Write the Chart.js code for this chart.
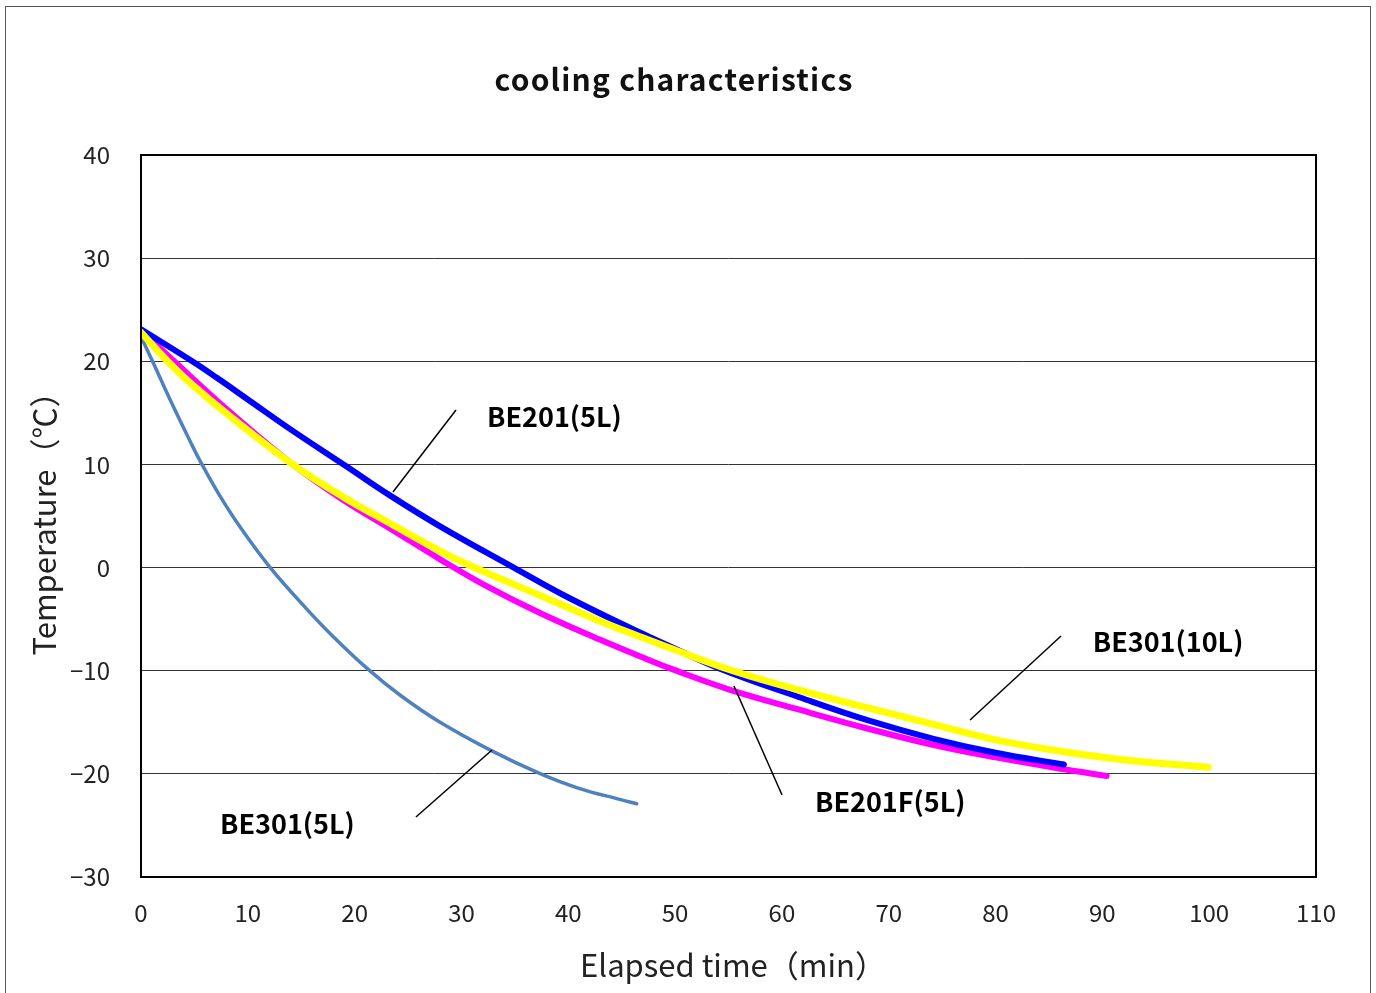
<!DOCTYPE html>
<html>
<head>
<meta charset="utf-8">
<script src="https://cdn.jsdelivr.net/npm/chart.js@4"></script>
<style>
  html, body { margin: 0; padding: 0; background: #fff; }
  #wrap { width: 1376px; height: 993px; position: relative; }
</style>
</head>
<body>
<div id="wrap"><canvas id="c" width="1376" height="993"></canvas></div>
<script>
// ---- data ----
const titleText = 'cooling characteristics';
const xTitle = 'Elapsed time（min）';
const yTitle = 'Temperature（℃）';
const xTickValues = [0, 10, 20, 30, 40, 50, 60, 70, 80, 90, 100, 110];
const yTickValues = [-30, -20, -10, 0, 10, 20, 30, 40];

const seriesNames = ['BE301(10L)', 'BE201(5L)', 'BE201F(5L)', 'BE301(5L)'];

const timeBE301_10L = [0, 2.5, 4.6, 8.3, 14.2, 19, 23.3, 28, 31, 37.35, 43, 46.7, 49.25, 55.4, 61.7, 74.2, 80, 86.7, 93, 99.9];
const tempBE301_10L = [22.8, 20.0, 17.9, 14.7, 10.0, 6.8, 4.3, 1.6, 0.1, -2.7, -5.2, -6.7, -7.7, -10.0, -11.9, -15.2, -16.7, -17.9, -18.75, -19.35];

const timeBE201_5L = [0, 4.8, 7.1, 10, 14, 19.25, 23.3, 28, 34.9, 40, 46.7, 49.25, 54.2, 61.7, 68, 74.2, 80, 86.4];
const tempBE201_5L = [23.1, 20.0, 18.4, 16.3, 13.4, 9.8, 7.0, 4.0, 0.0, -2.9, -6.3, -7.5, -9.8, -12.6, -14.8, -16.6, -17.95, -19.1];

const timeBE201F_5L = [0, 3.1, 8.3, 14.2, 19, 23.3, 28, 32, 37.35, 43, 46.7, 49.6, 55, 61.7, 68, 74.2, 80, 86.7, 90.4];
const tempBE201F_5L = [23.0, 20.0, 15.1, 10.0, 6.5, 3.8, 0.8, -1.6, -4.4, -7.0, -8.6, -9.8, -11.8, -13.8, -15.6, -17.2, -18.4, -19.6, -20.2];

const timeBE301_5L = [0, 1.1, 2.65, 4.6, 5.5, 7.3, 9.3, 12.1, 15.5, 18, 21.3, 24.3, 28, 32.7, 37.2, 41, 44.9, 46.4];
const tempBE301_5L = [22.4, 19.95, 16.45, 12.25, 10.4, 7.1, 3.9, 0.0, -4.0, -6.7, -9.9, -12.4, -15.0, -17.7, -19.9, -21.4, -22.5, -22.9];

// label callouts, in data units: text anchor (left/middle) and leader line ends
const calloutText = ['BE201(5L)', 'BE301(10L)', 'BE201F(5L)', 'BE301(5L)'];
const calloutTextX = [32.4, 89.1, 63.1, 7.4];
const calloutTextY = [14.6, -7.2, -22.7, -24.8];
const calloutLineX1 = [29.49, 86.13, 60.01, 25.74];
const calloutLineY1 = [15.28, -6.64, -22.05, -24.18];
const calloutLineX2 = [23.59, 77.61, 55.51, 32.86];
const calloutLineY2 = [7.33, -14.78, -11.48, -17.69];

// ---- build ----
function zip(ts, vs) { return ts.map((t, i) => ({ x: t, y: vs[i] })); }
const FONT = '"Noto Sans CJK JP", "Noto Sans", sans-serif';

const framePlugin = {
  id: 'frame',
  beforeDraw(chart) {
    const ctx = chart.ctx;
    ctx.save();
    ctx.fillStyle = '#fff';
    ctx.fillRect(0, 0, chart.width, chart.height);
    ctx.strokeStyle = '#555';
    ctx.lineWidth = 1;
    ctx.strokeRect(5.5, 6.5, 1365, 1010);
    // title
    ctx.fillStyle = '#111';
    ctx.font = 'bold 30px ' + FONT;
    try { ctx.letterSpacing = '1.2px'; } catch (e) {}
    ctx.textAlign = 'center';
    ctx.textBaseline = 'middle';
    ctx.fillText(titleText, 674, 80);
    try { ctx.letterSpacing = '0px'; } catch (e) {}
    // x axis title
    ctx.fillStyle = '#222';
    ctx.font = '31px ' + FONT;
    ctx.fillText(xTitle, 733, 965);
    ctx.restore();
  },
  afterDatasetsDraw(chart) {
    const ctx = chart.ctx;
    const xs = chart.scales.x, ys = chart.scales.y;
    const a = chart.chartArea;
    ctx.save();
    ctx.strokeStyle = '#000';
    ctx.lineWidth = 2;
    ctx.strokeRect(a.left, a.top, a.right - a.left, a.bottom - a.top);
    ctx.lineWidth = 1.5;
    for (let i = 0; i < calloutText.length; i++) {
      ctx.beginPath();
      ctx.moveTo(xs.getPixelForValue(calloutLineX1[i]), ys.getPixelForValue(calloutLineY1[i]));
      ctx.lineTo(xs.getPixelForValue(calloutLineX2[i]), ys.getPixelForValue(calloutLineY2[i]));
      ctx.stroke();
    }
    ctx.fillStyle = '#000';
    ctx.font = 'bold 27px ' + FONT;
    ctx.textAlign = 'left';
    ctx.textBaseline = 'middle';
    for (let i = 0; i < calloutText.length; i++) {
      ctx.fillText(calloutText[i], xs.getPixelForValue(calloutTextX[i]), ys.getPixelForValue(calloutTextY[i]));
    }
    ctx.restore();
  }
};

const common = { pointRadius: 0, fill: false, tension: 0.4, borderCapStyle: 'round', borderJoinStyle: 'round' };

new Chart(document.getElementById('c'), {
  type: 'line',
  data: {
    datasets: [
      Object.assign({ label: seriesNames[0], data: zip(timeBE301_10L, tempBE301_10L), borderColor: '#FFFF00', borderWidth: 7 }, common),
      Object.assign({ label: seriesNames[1], data: zip(timeBE201_5L, tempBE201_5L), borderColor: '#0000FF', borderWidth: 6 }, common),
      Object.assign({ label: seriesNames[2], data: zip(timeBE201F_5L, tempBE201F_5L), borderColor: '#FF00FF', borderWidth: 6 }, common),
      Object.assign({ label: seriesNames[3], data: zip(timeBE301_5L, tempBE301_5L), borderColor: '#4F81BD', borderWidth: 3.5 }, common)
    ]
  },
  options: {
    responsive: false,
    animation: false,
    devicePixelRatio: 1,
    layout: { padding: { left: 0, top: 155, right: 60, bottom: 0 } },
    plugins: { legend: { display: false }, tooltip: { enabled: false }, title: { display: false } },
    scales: {
      x: {
        type: 'linear', min: 0, max: 110,
        afterBuildTicks: s => { s.ticks = xTickValues.map(v => ({ value: v })); },
        afterFit: s => { s.height = 116; },
        grid: { display: false, drawTicks: false },
        border: { display: false },
        ticks: { padding: 21, color: '#222', font: { family: FONT, size: 24 }, maxRotation: 0, autoSkip: false },
        title: { display: false }
      },
      y: {
        type: 'linear', min: -30, max: 40,
        afterBuildTicks: s => { s.ticks = yTickValues.map(v => ({ value: v })); },
        afterFit: s => { s.width = 141; },
        grid: { color: '#333', lineWidth: 1, drawTicks: false },
        border: { display: false },
        ticks: { padding: 31, color: '#222', font: { family: FONT, size: 24 }, autoSkip: false,
                 callback: v => String(v).replace('-', '−') },
        title: { display: true, text: yTitle, color: '#222', font: { family: FONT, size: 31 }, padding: { top: 26, bottom: 0 } }
      }
    }
  },
  plugins: [framePlugin]
});
</script>
</body>
</html>
